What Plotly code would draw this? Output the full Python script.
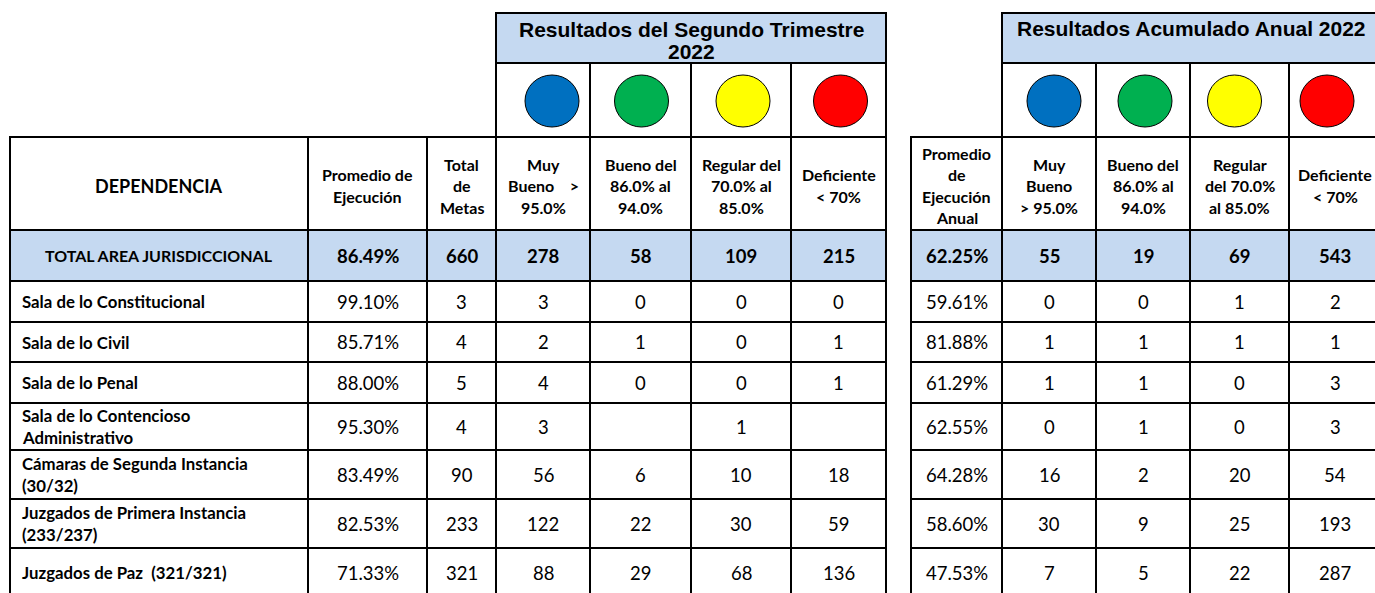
import plotly.graph_objects as go

# ---------------- DATA ----------------
dependencias = [
    "Sala de lo Constitucional",
    "Sala de lo Civil",
    "Sala de lo Penal",
    "Sala de lo Contencioso<br>Administrativo",
    "Cámaras de Segunda Instancia<br>(30/32)",
    "Juzgados de Primera Instancia<br>(233/237)",
    "Juzgados de Paz  (321/321)",
]
total_label = "TOTAL AREA JURISDICCIONAL"

# Segundo Trimestre 2022
trim_promedio = [99.10, 85.71, 88.00, 95.30, 83.49, 82.53, 71.33]
trim_total_metas = [3, 4, 5, 4, 90, 233, 321]
trim_muy_bueno = [3, 2, 4, 3, 56, 122, 88]
trim_bueno = [0, 1, 0, None, 6, 22, 29]
trim_regular = [0, 0, 0, 1, 10, 30, 68]
trim_deficiente = [0, 1, 1, None, 18, 59, 136]
trim_totals = [86.49, 660, 278, 58, 109, 215]

# Acumulado Anual 2022
anual_promedio = [59.61, 81.88, 61.29, 62.55, 64.28, 58.60, 47.53]
anual_muy_bueno = [0, 1, 1, 0, 16, 30, 7]
anual_bueno = [0, 1, 1, 1, 2, 9, 5]
anual_regular = [1, 1, 0, 0, 20, 25, 22]
anual_deficiente = [2, 1, 3, 3, 54, 193, 287]
anual_totals = [62.25, 55, 19, 69, 543]

title_trim = "Resultados del Segundo Trimestre<br>2022"
title_anual = "Resultados Acumulado Anual 2022"
left_headers = ["DEPENDENCIA", "Promedio de<br>Ejecución", "Total<br>de<br>Metas",
                "Muy<br>Bueno    &gt;<br>95.0%", "Bueno del<br>86.0% al<br>94.0%",
                "Regular del<br>70.0% al<br>85.0%", "Deficiente<br>&lt; 70%"]
right_headers = ["Promedio<br>de<br>Ejecución<br>Anual", "Muy<br>Bueno<br>&gt; 95.0%",
                 "Bueno del<br>86.0% al<br>94.0%", "Regular<br>del 70.0%<br>al 85.0%",
                 "Deficiente<br>&lt; 70%"]
circle_colors = ["#0070C0", "#00B050", "#FFFF00", "#FF0000"]

# ---------------- LAYOUT (positions / styles) ----------------
W, H = 1375, 593
L_EDGES = [10, 308, 427, 496, 590, 691, 791, 886]
R_EDGES = [911, 1002, 1096, 1190, 1289, 1381]
ROW_EDGES = [13, 63, 137, 230, 281, 322, 362, 403, 450, 499, 548, 597]
HEAD_FILL = "#C5D9F1"
BODY_FONT = "Lato"
TITLE_FONT = "Liberation Sans, Arial"
LW = 2
LINE_H = 21.5
CIRCLE_W, CIRCLE_H = 54, 52
CIRCLE_DX_L = [9, 1, 2, 2]      # small horizontal offsets of the circles inside their cells
CIRCLE_DX_R = [5, 2, -5, -8]
SZ_TITLE, SZ_HEAD, SZ_DEP, SZ_NAME, SZ_VAL, SZ_TOTLBL = 21, 16, 18, 16.8, 18.5, 16

fig = go.Figure()
shapes = []
annotations = []


def cell(x0, x1, y0, y1, fill="white"):
    shapes.append(dict(type="rect", xref="x", yref="y", x0=x0, x1=x1, y0=y0, y1=y1,
                       fillcolor=fill, line=dict(color="black", width=LW), layer="below"))


def text(s, x, yc, size, bold=False, family=BODY_FONT, anchor="center", lh=LINE_H):
    lines = s.split("<br>")
    n = len(lines)
    for i, ln in enumerate(lines):
        y = yc + (i - (n - 1) / 2) * lh
        annotations.append(dict(text=ln, x=x, y=y, xref="x", yref="y", showarrow=False,
                                xanchor=anchor, yanchor="middle",
                                font=dict(family=family, size=size, color="black",
                                          weight="bold" if bold else "normal")))


def fmt(v, pct=False):
    if v is None:
        return ""
    return f"{v:.2f}%" if pct else str(v)


r = ROW_EDGES
# ----- Left table -----
cell(L_EDGES[3], L_EDGES[-1], r[0], r[1], HEAD_FILL)
text(title_trim, (L_EDGES[3] + L_EDGES[-1]) / 2, (r[0] + r[1]) / 2 + 2, SZ_TITLE, True, TITLE_FONT, lh=22)
for j in range(4):
    x0, x1 = L_EDGES[3 + j], L_EDGES[4 + j]
    cell(x0, x1, r[1], r[2])
for j in range(7):
    x0, x1 = L_EDGES[j], L_EDGES[j + 1]
    cell(x0, x1, r[2], r[3])
    text(left_headers[j], (x0 + x1) / 2, (r[2] + r[3]) / 2 + 2, SZ_DEP if j == 0 else SZ_HEAD, True)

left_cols = [trim_promedio, trim_total_metas, trim_muy_bueno, trim_bueno, trim_regular, trim_deficiente]
# total row
cell(L_EDGES[0], L_EDGES[1], r[3], r[4], HEAD_FILL)
text(total_label, (L_EDGES[0] + L_EDGES[1]) / 2, (r[3] + r[4]) / 2, SZ_TOTLBL, True)
for j, v in enumerate(trim_totals):
    x0, x1 = L_EDGES[j + 1], L_EDGES[j + 2]
    cell(x0, x1, r[3], r[4], HEAD_FILL)
    text(fmt(v, j == 0), (x0 + x1) / 2, (r[3] + r[4]) / 2, SZ_VAL, True)
for i, name in enumerate(dependencias):
    y0, y1 = r[4 + i], r[5 + i]
    cell(L_EDGES[0], L_EDGES[1], y0, y1)
    text(name, L_EDGES[0] + 10, (y0 + y1) / 2, SZ_NAME, True, anchor="left", lh=22)
    for j, col in enumerate(left_cols):
        x0, x1 = L_EDGES[j + 1], L_EDGES[j + 2]
        cell(x0, x1, y0, y1)
        text(fmt(col[i], j == 0), (x0 + x1) / 2, (y0 + y1) / 2, SZ_VAL)

# ----- Right table -----
cell(R_EDGES[1], R_EDGES[-1], r[0], r[1], HEAD_FILL)
text(title_anual, (R_EDGES[1] + R_EDGES[-1]) / 2, r[0] + 15, SZ_TITLE, True, TITLE_FONT)
for j in range(4):
    cell(R_EDGES[1 + j], R_EDGES[2 + j], r[1], r[2])
for j in range(5):
    x0, x1 = R_EDGES[j], R_EDGES[j + 1]
    cell(x0, x1, r[2], r[3])
    text(right_headers[j], (x0 + x1) / 2, (r[2] + r[3]) / 2 + 2, SZ_HEAD, True)

right_cols = [anual_promedio, anual_muy_bueno, anual_bueno, anual_regular, anual_deficiente]
for j, v in enumerate(anual_totals):
    x0, x1 = R_EDGES[j], R_EDGES[j + 1]
    cell(x0, x1, r[3], r[4], HEAD_FILL)
    text(fmt(v, j == 0), (x0 + x1) / 2, (r[3] + r[4]) / 2, SZ_VAL, True)
for i in range(len(dependencias)):
    y0, y1 = r[4 + i], r[5 + i]
    for j, col in enumerate(right_cols):
        x0, x1 = R_EDGES[j], R_EDGES[j + 1]
        cell(x0, x1, y0, y1)
        text(fmt(col[i], j == 0), (x0 + x1) / 2, (y0 + y1) / 2, SZ_VAL)

# ----- Circles -----
cy = (r[1] + r[2]) / 2 + 1
for edges, off, dxs in ((L_EDGES, 3, CIRCLE_DX_L), (R_EDGES, 1, CIRCLE_DX_R)):
    for j, c in enumerate(circle_colors):
        cx = (edges[off + j] + edges[off + j + 1]) / 2 + dxs[j]
        shapes.append(dict(type="circle", xref="x", yref="y",
                           x0=cx - CIRCLE_W / 2, x1=cx + CIRCLE_W / 2,
                           y0=cy - CIRCLE_H / 2, y1=cy + CIRCLE_H / 2,
                           fillcolor=c, line=dict(color="black", width=1), layer="above"))

fig.update_layout(
    width=W, height=H, margin=dict(l=0, r=0, t=0, b=0),
    paper_bgcolor="white", plot_bgcolor="white",
    xaxis=dict(range=[0, W], visible=False, showgrid=False, zeroline=False, fixedrange=True),
    yaxis=dict(range=[H, 0], visible=False, showgrid=False, zeroline=False, fixedrange=True),
    shapes=shapes, annotations=annotations, showlegend=False,
)
fig.write_html(
    "out.html",
    config={"displayModeBar": False},
    post_script="document.body.style.margin='0';document.body.style.overflow='hidden';",
)
